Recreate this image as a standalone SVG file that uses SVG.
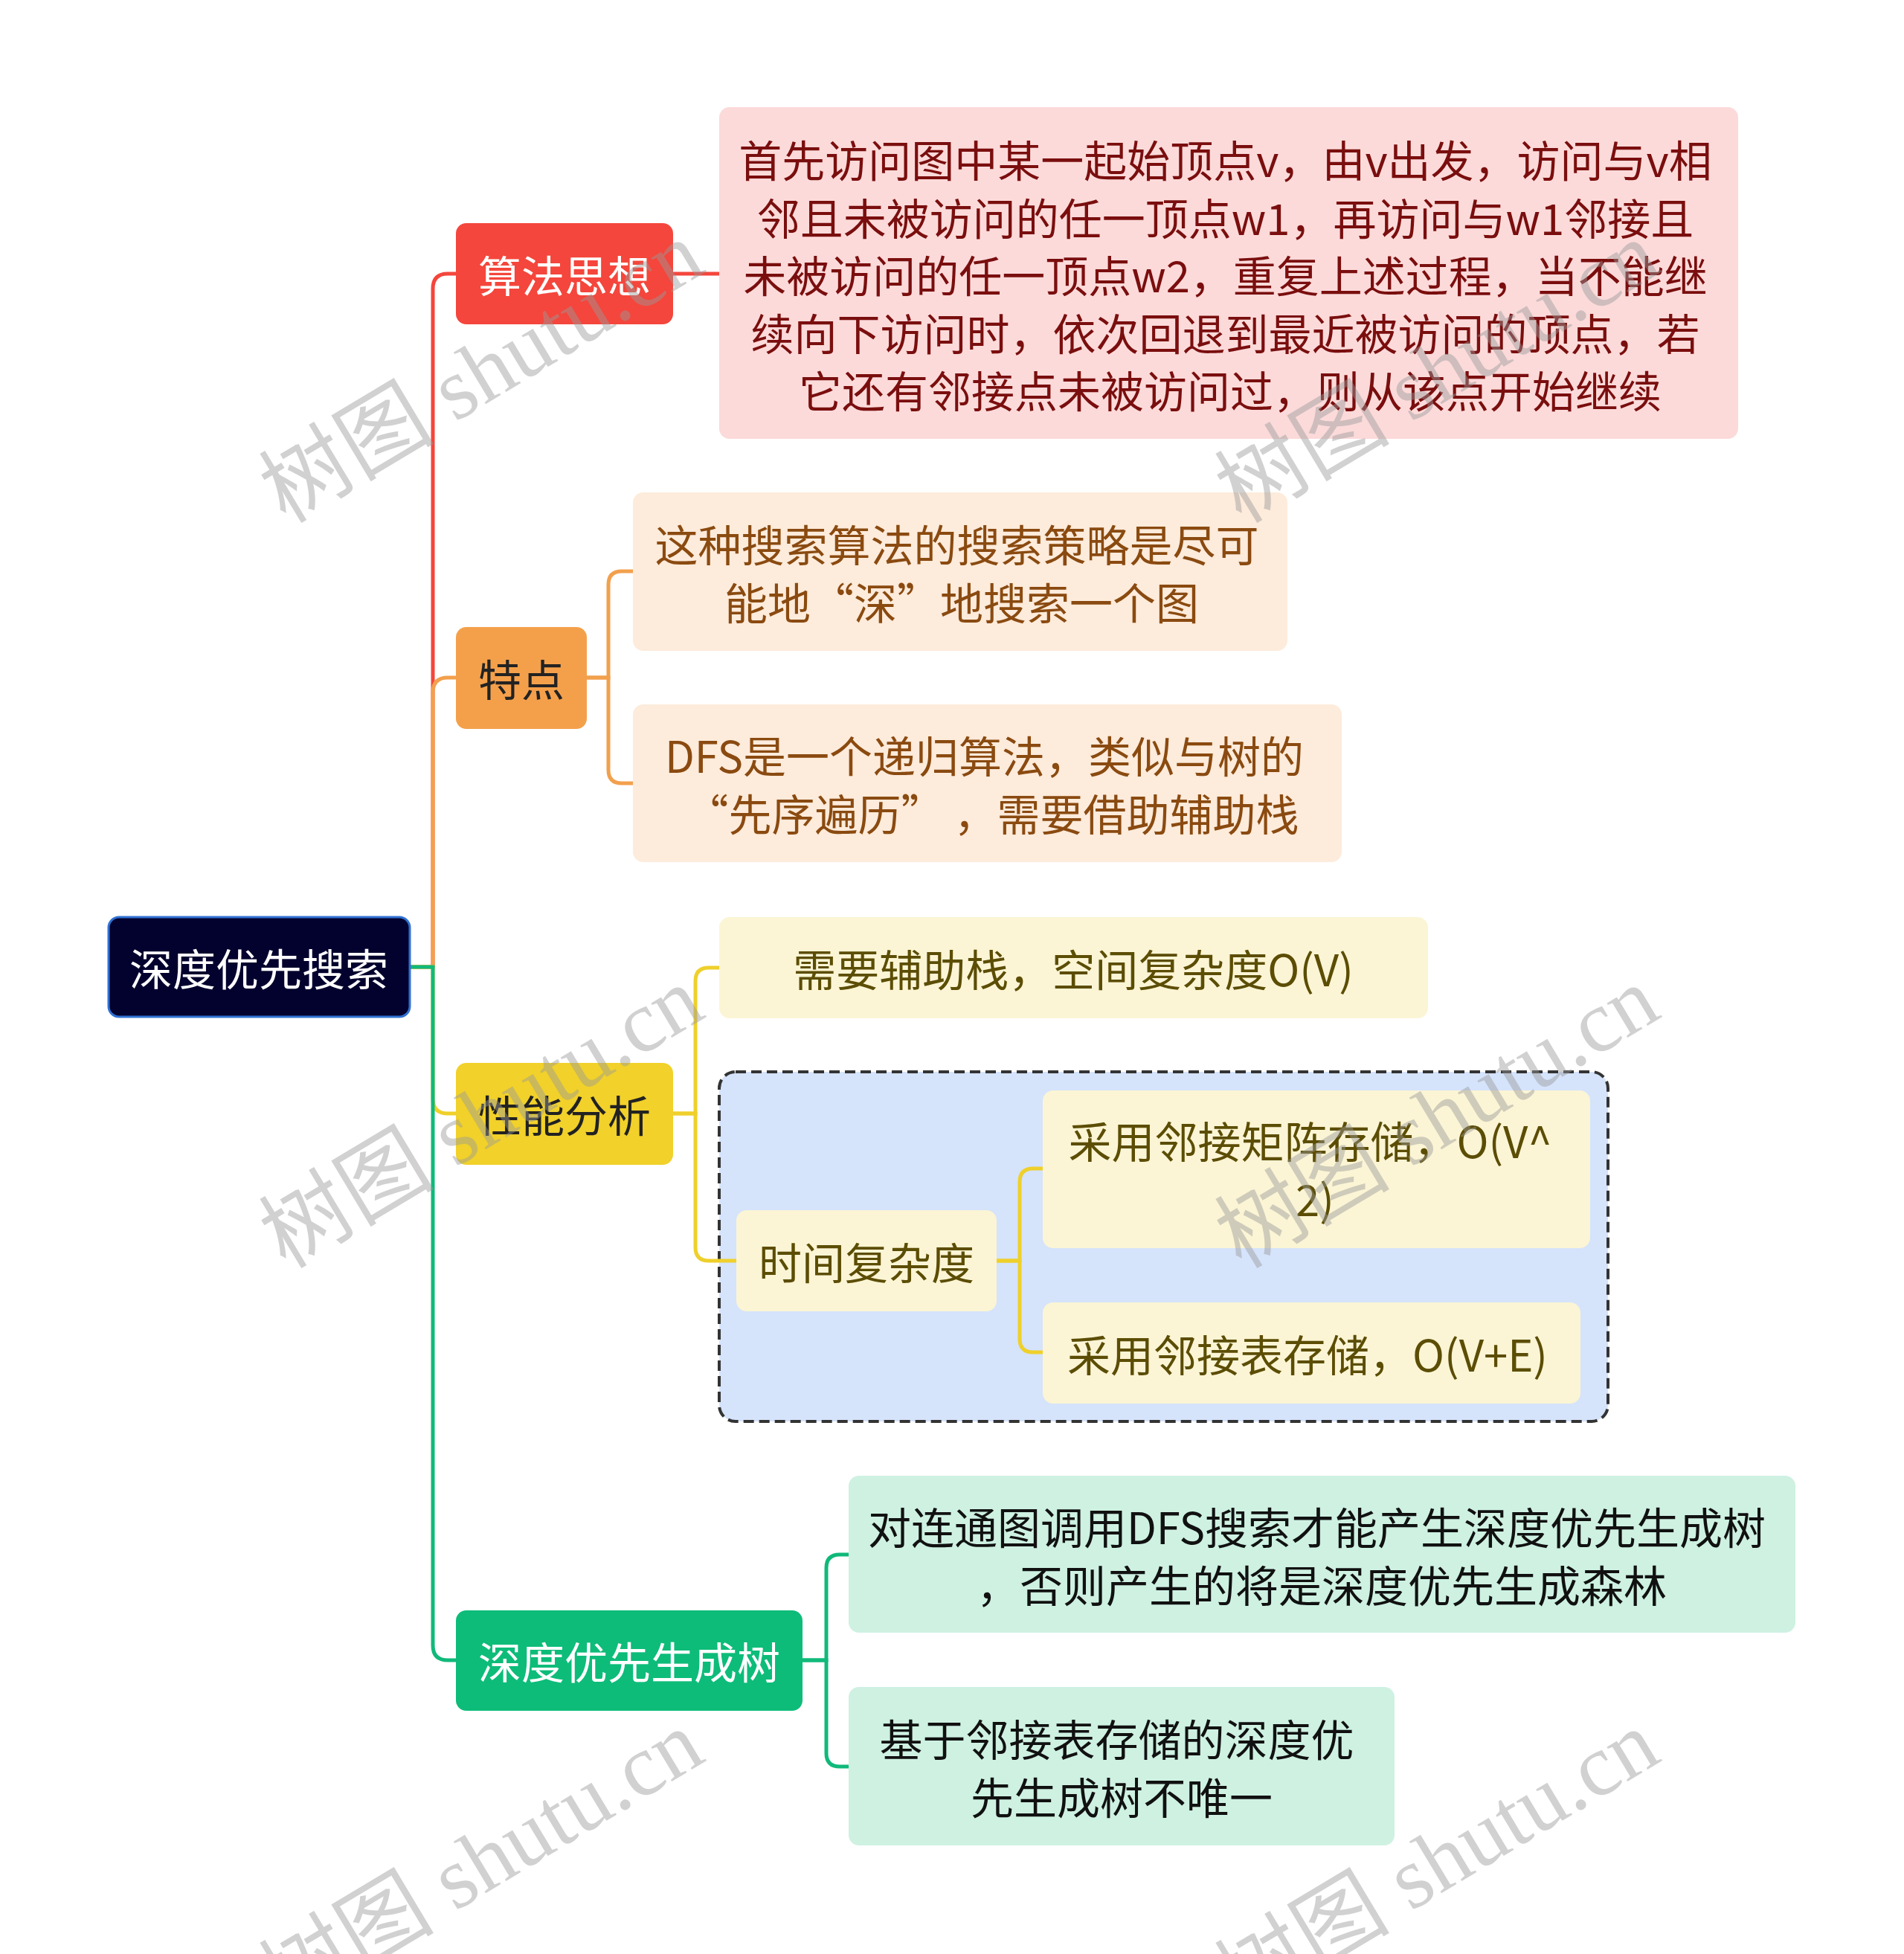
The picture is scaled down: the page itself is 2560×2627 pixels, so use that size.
<svg xmlns="http://www.w3.org/2000/svg" width="2560" height="2627" viewBox="0 0 2560 2627">
<style>
.t{font-family:"Noto Sans CJK SC","Noto Sans",sans-serif;font-size:58px;text-anchor:middle;dominant-baseline:central;}
.c{fill:none;stroke-width:5;}
.wm{font-family:"Liberation Serif","Noto Sans CJK SC",serif;font-size:118px;fill:#9a9a9a;fill-opacity:0.45;}
</style>
<rect x="0" y="0" width="2560" height="2627" fill="#ffffff"/>

<g id="boundary">
<rect x="967" y="1441" width="1195" height="470" rx="22" fill="#D5E3FB" stroke="#333333" stroke-width="4" stroke-dasharray="14 7"/>
</g>

<g id="connectors">
<path class="c" stroke="#F4463C" d="M551 1300 H582 V388 Q582 368 602 368 H613"/>
<path class="c" stroke="#F2A04D" d="M551 1300 H582 V931 Q582 911 602 911 H613"/>
<path class="c" stroke="#EFD02B" d="M551 1300 H582 V1477 Q582 1497 602 1497 H613"/>
<path class="c" stroke="#10B97A" d="M551 1300 H582 V2212 Q582 2232 602 2232 H613"/>
<path class="c" stroke="#F4463C" d="M905 368 H967"/>
<path class="c" stroke="#F2A04D" d="M789 911 H818 V786 Q818 768 836 768 H851"/>
<path class="c" stroke="#F2A04D" d="M789 911 H818 V1035 Q818 1053 836 1053 H851"/>
<path class="c" stroke="#EFD02B" d="M905 1497 H935 V1319 Q935 1301 953 1301 H967"/>
<path class="c" stroke="#EFD02B" d="M905 1497 H935 V1677 Q935 1695 953 1695 H990"/>
<path class="c" stroke="#EFD02B" d="M1340 1695 H1371 V1589 Q1371 1571 1389 1571 H1402"/>
<path class="c" stroke="#EFD02B" d="M1340 1695 H1371 V1800 Q1371 1818 1389 1818 H1402"/>
<path class="c" stroke="#10B97A" d="M1079 2232 H1111 V2108 Q1111 2090 1129 2090 H1141"/>
<path class="c" stroke="#10B97A" d="M1079 2232 H1111 V2357 Q1111 2375 1129 2375 H1141"/>
</g>

<g id="root">
<rect x="146" y="1233" width="405" height="134" rx="14" fill="#03022E" stroke="#3071D2" stroke-width="3"/>
<text class="t" x="348" y="1300" fill="#ffffff">深度优先搜索</text>
</g>

<g id="n-suanfa">
<rect x="613" y="300" width="292" height="136" rx="14" fill="#F4463C"/>
<text class="t" x="759" y="368" fill="#ffffff">算法思想</text>
</g>
<g id="n-suanfa-detail">
<rect x="967" y="144" width="1370" height="446" rx="14" fill="#FCDADA"/>
<text class="t" fill="#7A0E0E">
<tspan x="1654" y="213">首先访问图中某一起始顶点v，由v出发，访问与v相</tspan>
<tspan x="1654" y="291">邻且未被访问的任一顶点w1，再访问与w1邻接且</tspan>
<tspan x="1654" y="368">未被访问的任一顶点w2，重复上述过程，当不能继</tspan>
<tspan x="1654" y="446">续向下访问时，依次回退到最近被访问的顶点，若</tspan>
<tspan x="1654" y="523">它还有邻接点未被访问过，则从该点开始继续</tspan>
</text>
</g>

<g id="n-tedian">
<rect x="613" y="843" width="176" height="137" rx="14" fill="#F4A04B"/>
<text class="t" x="701" y="911" fill="#222222">特点</text>
</g>
<g id="n-tedian-1">
<rect x="851" y="662" width="880" height="213" rx="14" fill="#FDEBDB"/>
<text class="t" fill="#8A4A10">
<tspan x="1293" y="730">这种搜索算法的搜索策略是尽可</tspan>
<tspan x="1293" y="808">能地“深”地搜索一个图</tspan>
</text>
</g>
<g id="n-tedian-2">
<rect x="851" y="947" width="953" height="212" rx="14" fill="#FDEBDB"/>
<text class="t" fill="#8A4A10">
<tspan x="1330" y="1014">DFS是一个递归算法，类似与树的</tspan>
<tspan x="1334" y="1092">“先序遍历” ，需要借助辅助栈</tspan>
</text>
</g>

<g id="n-xingneng">
<rect x="613" y="1429" width="292" height="137" rx="14" fill="#F1D12A"/>
<text class="t" x="759" y="1497" fill="#222222">性能分析</text>
</g>
<g id="n-kongjian">
<rect x="967" y="1233" width="953" height="136" rx="14" fill="#FBF5D5"/>
<text class="t" x="1443" y="1301" fill="#5C4D05">需要辅助栈，空间复杂度O(V)</text>
</g>
<g id="n-shijian">
<rect x="990" y="1627" width="350" height="136" rx="14" fill="#FBF5D5"/>
<text class="t" x="1165" y="1695" fill="#5C4D05">时间复杂度</text>
</g>
<g id="n-juzhen">
<rect x="1402" y="1466" width="736" height="212" rx="14" fill="#FBF5D5"/>
<text class="t" fill="#5C4D05">
<tspan x="1768" y="1532">采用邻接矩阵存储，O(V^</tspan>
<tspan x="1768" y="1610">2)</tspan>
</text>
</g>
<g id="n-linjiebiao">
<rect x="1402" y="1751" width="723" height="136" rx="14" fill="#FBF5D5"/>
<text class="t" x="1758" y="1819" fill="#5C4D05">采用邻接表存储，O(V+E)</text>
</g>

<g id="n-shengchengshu">
<rect x="613" y="2165" width="466" height="135" rx="14" fill="#0DBC79"/>
<text class="t" x="846" y="2232" fill="#ffffff">深度优先生成树</text>
</g>
<g id="n-liantong">
<rect x="1141" y="1984" width="1273" height="211" rx="14" fill="#CEF1E2"/>
<text class="t" fill="#111111">
<tspan x="1777" y="2051">对连通图调用DFS搜索才能产生深度优先生成树</tspan>
<tspan x="1777" y="2129">，否则产生的将是深度优先生成森林</tspan>
</text>
</g>
<g id="n-buweiyi">
<rect x="1141" y="2268" width="734" height="213" rx="14" fill="#CEF1E2"/>
<text class="t" fill="#111111">
<tspan x="1508" y="2336">基于邻接表存储的深度优</tspan>
<tspan x="1508" y="2414">先生成树不唯一</tspan>
</text>
</g>

<g id="watermark">
<text class="wm" transform="translate(384 705) rotate(-31)">树图 shutu.cn</text>
<text class="wm" transform="translate(1669 705) rotate(-31)">树图 shutu.cn</text>
<text class="wm" transform="translate(384 1707) rotate(-31)">树图 shutu.cn</text>
<text class="wm" transform="translate(1669 1707) rotate(-31)">树图 shutu.cn</text>
<text class="wm" transform="translate(384 2707) rotate(-31)">树图 shutu.cn</text>
<text class="wm" transform="translate(1669 2707) rotate(-31)">树图 shutu.cn</text>
</g>
</svg>
